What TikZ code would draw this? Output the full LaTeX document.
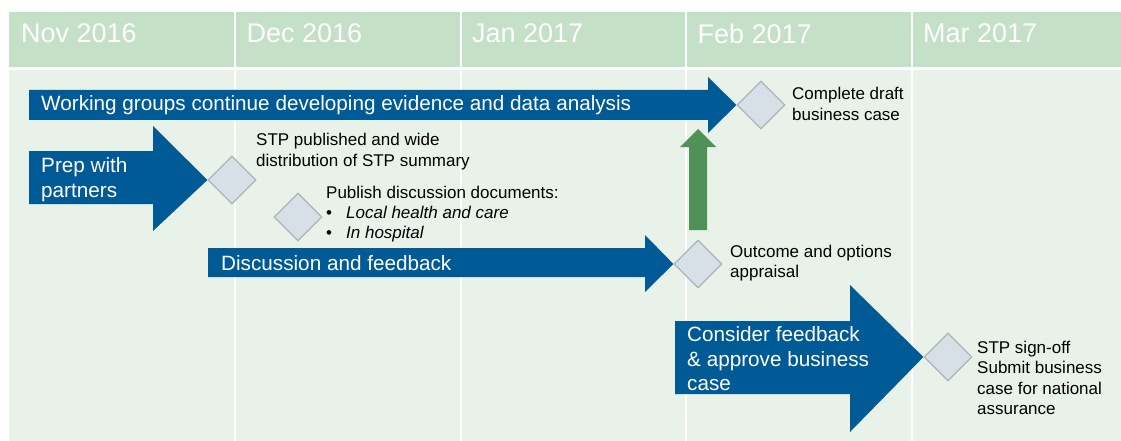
\documentclass[tikz,border=0pt]{standalone}
\usepackage{fontspec}
\setmainfont{Liberation Sans}
\usetikzlibrary{shapes.geometric}
\definecolor{hdrgreen}{RGB}{196,224,198}
\definecolor{bodygreen}{RGB}{232,242,233}
\definecolor{barblue}{RGB}{0,90,150}
\definecolor{msfill}{RGB}{214,224,230}
\definecolor{msline}{RGB}{172,180,184}
\definecolor{upgreen}{RGB}{80,145,88}

\begin{document}
\begin{tikzpicture}[x=1pt,y=-1pt,
  month/.style={anchor=west,inner sep=0,text=white,font=\fontsize{27}{31}\selectfont},
  bartext/.style={anchor=west,inner sep=0,text=white,align=left,font=\fontsize{20.7}{24.5}\selectfont},
  note/.style={anchor=west,inner sep=0,align=left,font=\fontsize{17}{20.3}\selectfont},
  milestone/.style={diamond,draw=msline,fill=msfill,line width=1.2pt,minimum size=48pt,inner sep=0}]
  \useasboundingbox (0,0) rectangle (1121,441);
  % month grid
  \fill[hdrgreen] (9,12) rectangle (1121,67);
  \fill[bodygreen] (9,70) rectangle (1121,441);
  \foreach \x in {235,461,686,912} {
    \draw[white,line width=2pt] (\x,12) -- (\x,441);
  }
  \foreach \m [count=\i from 0] in {Nov 2016,Dec 2016,Jan 2017,Feb 2017,Mar 2017} {
    \node[month] (m\i) at (21+225.5*\i,33.5) {\m};
  }
  % milestones
  \node[milestone] (draft) at (761,105) {};
  \node[milestone] (publish) at (232,180) {};
  \node[milestone] (docs) at (298,217) {};
  \node[milestone] (appraise) at (698,264) {};
  \node[milestone] (signoff) at (948,357) {};
  % block arrows
  \fill[barblue] (29,90) -- (708,90) -- (708,77) -- (draft.west) -- (708,133) -- (708,120) -- (29,120) -- cycle;
  \fill[barblue] (29,151) -- (153,151) -- (153,126) -- (publish.west) -- (153,231) -- (153,204) -- (29,204) -- cycle;
  \fill[barblue] (208,248) -- (645,248) -- (645,235) -- (appraise.west) -- (645,292) -- (645,277) -- (208,277) -- cycle;
  \fill[barblue] (675,321) -- (850,321) -- (850,285) -- (signoff.west) -- (850,432) -- (850,394) -- (675,394) -- cycle;
  \fill[upgreen] (689,230) -- (689,147) -- (680,147) -- (698,129) -- (716,147) -- (707,147) -- (707,230) -- cycle;
  \node[bartext] (wg) at (41,105) {Working groups continue developing evidence and data analysis};
  \node[bartext] (prep) at (41,179.5) {Prep with\\partners};
  \node[bartext] (discuss) at (221,263) {Discussion and feedback};
  \node[bartext] (consider) at (687,359) {Consider feedback\\\& approve business\\case};
  % notes
  \node[note] (draftnote) at (792,104) {Complete draft\\business case};
  \node[note] (pubnote) at (256,151.5) {STP published and wide\\distribution of STP summary};
  \node[note] (docsnote) at (326,214) {Publish discussion documents:\\
    \makebox[20pt][l]{\textbullet}\textit{Local health and care}\\
    \makebox[20pt][l]{\textbullet}\textit{In hospital}};
  \node[note] (appnote) at (730,263) {Outcome and options\\appraisal};
  \node[note] (signnote) at (977,378) {STP sign-off\\Submit business\\case for national\\assurance};
\end{tikzpicture}
\end{document}
